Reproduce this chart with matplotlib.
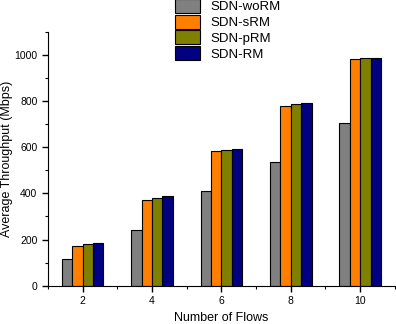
import numpy as np
import matplotlib.pyplot as plt
from matplotlib.ticker import MultipleLocator

plt.rcParams['font.family'] = ['Liberation Sans', 'DejaVu Sans']

flows = [2, 4, 6, 8, 10]
series_names = ['SDN-woRM', 'SDN-sRM', 'SDN-pRM', 'SDN-RM']
wo_rm = [115, 241, 410, 535, 707]
s_rm = [172, 371, 583, 778, 981]
p_rm = [180, 380, 589, 786, 988]
rm = [185, 390, 593, 792, 988]
colors = ['#808080', '#FF8000', '#808000', '#000080']

fig = plt.figure(figsize=(3.96, 3.24), dpi=100)
ax = fig.add_axes([0.121, 0.118, 0.876, 0.784])

x = np.array(flows, dtype=float)
width = 0.3
offsets = [-1.5, -0.5, 0.5, 1.5]
for vals, name, c, off in zip([wo_rm, s_rm, p_rm, rm], series_names, colors, offsets):
    ax.bar(x + off * width, vals, width, color=c, edgecolor='black',
           linewidth=0.8, label=name)

ax.set_xlim(1, 11)
ax.set_ylim(0, 1100)
ax.set_xticks(flows)
ax.xaxis.set_minor_locator(MultipleLocator(1))
ax.yaxis.set_major_locator(MultipleLocator(200))
ax.yaxis.set_minor_locator(MultipleLocator(100))
ax.tick_params(which='major', direction='out', length=4, width=1, labelsize=7.5)
ax.tick_params(which='minor', direction='out', length=2.5, width=0.8)
ax.spines['top'].set_visible(False)
ax.spines['right'].set_visible(False)
ax.set_xlabel('Number of Flows', fontsize=9, labelpad=4)
ax.set_ylabel('Average Throughput (Mbps)', fontsize=9, labelpad=1)

fig.legend(loc='upper left', bbox_to_anchor=(175 / 396, 1.003), frameon=False,
           fontsize=9.5, handlelength=1.9, handleheight=1.25, handletextpad=0.75,
           labelspacing=0.1, borderaxespad=0, borderpad=0)

fig.savefig('out.png', dpi=100)
